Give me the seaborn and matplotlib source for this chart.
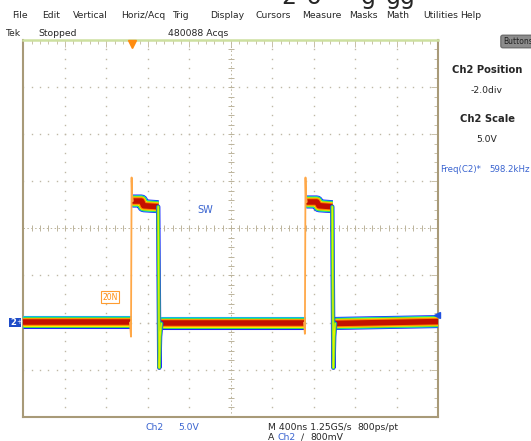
"""
Captura de osciloscopio Tek (Ch2, nodo SW) recreada con seaborn.
"""

import numpy as np
import pandas as pd
import matplotlib.pyplot as plt
import seaborn as sns
from matplotlib.patches import FancyBboxPatch, Rectangle

# ---------------------------------------------------------------------------
# Datos leídos de la pantalla (tiempo en ns, tensión en V; 400 ns/div, 5 V/div)
# ---------------------------------------------------------------------------
band_seg = [0, 0, 1, 1, 1, 1, 2, 2, 3, 3, 3, 3, 4, 4]
band_t = [-2000, -962, -950, -860, -840, -698, -672, 712, 728, 830, 850, 980, 996, 2000]
band_v = [0.1, 0.1, 12.9, 12.9, 12.4, 12.3, -0.1, -0.1, 12.8, 12.8, 12.4, 12.3, -0.1, 0.1]

rise_seg = [0, 0, 0, 0, 0, 1, 1, 1, 1, 1]
rise_t = [-972, -962, -956, -952, -944, 706, 714, 720, 724, 732]
rise_v = [0.0, -1.5, 15.4, 13.6, 12.9, 0.0, -1.2, 15.4, 13.5, 12.8]

fall_seg = [0, 0, 0, 0, 0, 1, 1, 1, 1, 1]
fall_t = [-700, -694, -689, -682, -670, 978, 984, 989, 996, 1006]
fall_v = [12.3, 3.0, -4.8, -1.5, -0.1, 12.3, 3.0, -4.8, -1.5, -0.1]

trig_t = -955          # posición del disparo
trig_level = 0.8       # 800 mV

menu_items = ['File', 'Edit', 'Vertical', 'Horiz/Acq', 'Trig', 'Display',
              'Cursors', 'Measure', 'Masks', 'Math', 'Utilities', 'Help']
menu_x = [11.7, 41.7, 72.7, 120.7, 172, 210, 255, 301.7, 349, 385.7, 423, 460]

W, H = 531, 441
FUENTE = ['DejaVu Sans']
AZUL = '#3a64d0'
FS = 6.7


def px(x, y):
    """Pasa coordenadas de píxel a fracción de figura."""
    return x / W, 1 - y / H


sns.set_style('white')
plt.rcParams['font.family'] = FUENTE

fig = plt.figure(figsize=(W / 100, H / 100), dpi=100)
ax = fig.add_axes([23.3 / W, 1 - 416.7 / H, 415 / W, 376.7 / H])
ax.set_xlim(-2000, 2000)
ax.set_ylim(-10, 30)

# --- retícula -------------------------------------------------------------
grid_c = '#bfb8a6'
ys = np.arange(-10, 30.01, 1.0)
xs = np.arange(-2000, 2000.01, 80)
for gx in np.arange(-1600, 1601, 400):
    if gx == 0:
        continue
    ax.plot(np.full_like(ys, gx), ys, ls='', marker='s', ms=1.0, mew=0, color=grid_c, zorder=1)
for gy in np.arange(-5, 26, 5):
    if gy == 10:
        continue
    ax.plot(xs, np.full_like(xs, gy), ls='', marker='s', ms=1.0, mew=0, color=grid_c, zorder=1)

ax.axhline(10, color='#bcb49c', lw=0.7, ls=(0, (1.5, 2.5)), zorder=1)
ax.axvline(0, color='#bcb49c', lw=0.7, ls=(0, (1.5, 2.5)), zorder=1)
ax.plot(xs, np.full_like(xs, 10), ls='', marker='|', ms=4, mew=0.7, color='#bcb49c', zorder=1)
ax.plot(np.full_like(ys, 0), ys, ls='', marker='_', ms=4, mew=0.7, color='#bcb49c', zorder=1)

ax.set_xticks(np.arange(-2000, 2001, 400))
ax.set_xticks(xs, minor=True)
ax.set_yticks(np.arange(-10, 31, 5))
ax.set_yticks(ys, minor=True)
ax.tick_params(which='both', direction='in', top=True, right=True,
               labelbottom=False, labelleft=False, color='#c8c0a8')
ax.tick_params(which='major', length=5, width=0.7)
ax.tick_params(which='minor', length=3, width=0.7)
for lado in ['left', 'bottom', 'right']:
    ax.spines[lado].set_color('#a89a78')
    ax.spines[lado].set_linewidth(1.5)
ax.spines['top'].set_color('#cde0a0')
ax.spines['top'].set_linewidth(1.8)

# --- traza con persistencia (capas de color) -------------------------------
banda = pd.DataFrame({'t': band_t, 'v': band_v, 'seg': band_seg})
capas = [('#1a22ff', 9.4), ('#12d4e6', 8.4), ('#36e03a', 7.6),
         ('#f4ee00', 6.6), ('#ff8a00', 5.6), ('#c41000', 4.0)]
for color, lw in capas:
    sns.lineplot(data=banda, x='t', y='v', units='seg', estimator=None, sort=False,
                 color=color, lw=lw, solid_capstyle='butt', ax=ax, zorder=3)

bajada = pd.DataFrame({'t': fall_t, 'v': fall_v, 'seg': fall_seg})
for color, lw in [('#2030ff', 3.2), ('#40e040', 2.3), ('#e8f000', 1.0)]:
    sns.lineplot(data=bajada, x='t', y='v', units='seg', estimator=None, sort=False,
                 color=color, lw=lw, ax=ax, zorder=4)

subida = pd.DataFrame({'t': rise_t, 'v': rise_v, 'seg': rise_seg})
sns.lineplot(data=subida, x='t', y='v', units='seg', estimator=None, sort=False,
             color='#ffa848', lw=1.3, ax=ax, zorder=5)
ax.set_xlabel('')
ax.set_ylabel('')

# marcadores de disparo y tierra
ax.plot([trig_t], [29.6], marker='v', ms=6, color='#ff8c10', clip_on=False, zorder=6)
ax.plot([1990], [trig_level], marker='<', ms=4, color='#2050e0', clip_on=False, zorder=6)
ax.text(-1165, 2.7, '20N', color='#ff8c10', fontsize=5.5, ha='center', va='center',
        bbox=dict(boxstyle='square,pad=0.15', fc='none', ec='#ff9c30', lw=0.8), zorder=6)
ax.text(-245, 11.9, 'SW', color=AZUL, fontsize=FS + 0.3, ha='center', va='center', zorder=6)

fig.patches.append(Rectangle(px(9, 327), 12 / W, 9 / H, transform=fig.transFigure,
                             fc='#1e4cc8', ec='none'))
fig.text(*px(13.5, 322.5), '2', color='white', fontsize=6, fontweight='bold',
         ha='center', va='center')
fig.text(*px(19, 322.5), '+', color='white', fontsize=5, ha='center', va='center')

# --- textos de la interfaz --------------------------------------------------
for nombre, x in zip(menu_items, menu_x):
    fig.text(*px(x, 15), nombre, fontsize=FS, ha='left', va='center')
fig.text(*px(5, 33.5), 'Tek', fontsize=FS, va='center')
fig.text(*px(38, 33.5), 'Stopped', fontsize=FS, va='center')
fig.text(*px(168, 33.5), '480088 Acqs', fontsize=FS, va='center')

for ch, x in [('2', 281), ('o', 307), ('g', 361), ('gg', 386)]:
    fig.text(*px(x, 4), ch, fontsize=17, va='baseline')

fig.patches.append(FancyBboxPatch(px(503, 46), 40 / W, 9 / H, transform=fig.transFigure,
                                  boxstyle='round,pad=0.004', fc='#8c8c8c', ec='#707070'))
fig.text(*px(503, 41.5), 'Buttons', fontsize=5.5, va='center', color='#202020')
fig.text(*px(487, 70), 'Ch2 Position', fontsize=7.2, fontweight='bold', ha='center', va='center')
fig.text(*px(487, 91), '-2.0div', fontsize=FS, ha='center', va='center')
fig.text(*px(487, 119), 'Ch2 Scale', fontsize=7.2, fontweight='bold', ha='center', va='center')
fig.text(*px(487, 139), '5.0V', fontsize=FS, ha='center', va='center')
fig.text(*px(440, 169), 'Freq(C2)*', fontsize=FS - 0.5, color=AZUL, va='center')
fig.text(*px(530, 169), '598.2kHz', fontsize=FS - 0.5, color=AZUL, ha='right', va='center')

fig.text(*px(146, 427), 'Ch2', fontsize=FS, color=AZUL, va='center')
fig.text(*px(178, 427), '5.0V', fontsize=FS, color=AZUL, va='center')
fig.text(*px(268, 427), 'M 400ns 1.25GS/s', fontsize=FS, va='center')
fig.text(*px(357, 427), '800ps/pt', fontsize=FS, va='center')
fig.text(*px(268, 437.5), 'A', fontsize=FS, va='center')
fig.text(*px(278, 437.5), 'Ch2', fontsize=FS, color=AZUL, va='center')
fig.text(*px(301, 437.5), '\u2215', fontsize=FS, va='center')
fig.text(*px(310, 437.5), '800mV', fontsize=FS, va='center')

fig.savefig('out.png', dpi=100, facecolor='white')
